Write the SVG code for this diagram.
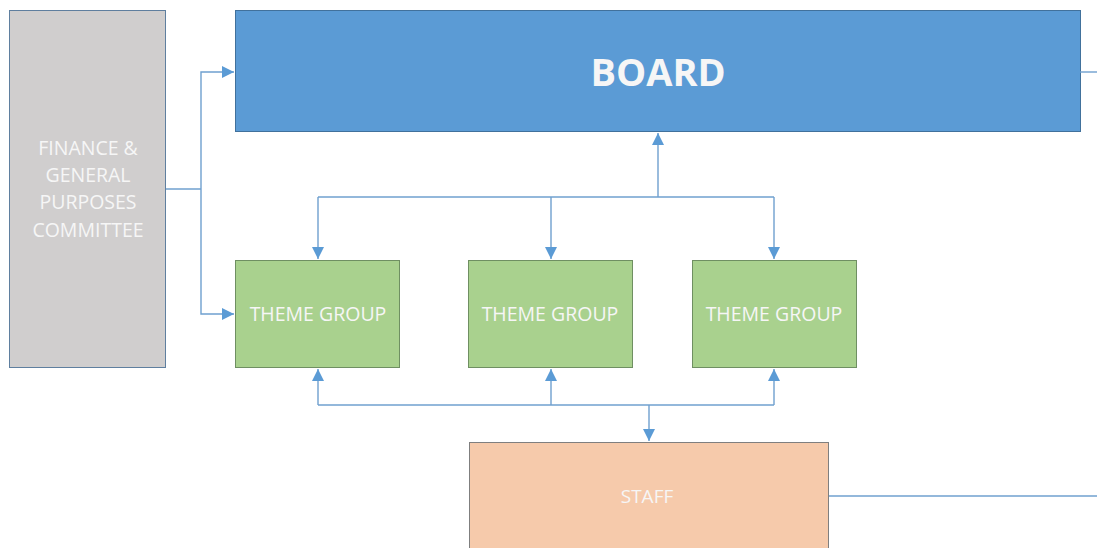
<svg xmlns="http://www.w3.org/2000/svg" width="1097" height="548" viewBox="0 0 1097 548">
<style>
.box{stroke-width:1}
.lbl{font-family:"Open Sans","Liberation Sans",sans-serif;fill:#f6f6f6;text-anchor:middle}
.conn{fill:none;stroke:#6fa0cf;stroke-width:1.4}
</style>
<defs>
<marker id="arr" viewBox="0 0 12 12" refX="12" refY="6" markerWidth="12" markerHeight="12" markerUnits="userSpaceOnUse" orient="auto">
<path d="M0,0 L12,6 L0,12 Z" fill="#5b9bd5"/>
</marker>
</defs>
<rect width="1097" height="548" fill="#ffffff"/>
<g id="finance">
<rect class="box" x="9.5" y="10.5" width="156" height="357" fill="#d0cece" stroke="#5f7f9f"/>
<text class="lbl" font-size="19.5" x="88" y="155">FINANCE &amp;</text>
<text class="lbl" font-size="19.5" x="88" y="182">GENERAL</text>
<text class="lbl" font-size="19.5" x="88" y="209">PURPOSES</text>
<text class="lbl" font-size="19.5" x="88" y="237">COMMITTEE</text>
</g>
<g id="board">
<rect class="box" x="235.5" y="10.5" width="845" height="121" fill="#5b9bd5" stroke="#41719c"/>
<text class="lbl" font-size="38" font-weight="bold" x="658" y="86" fill="#ffffff">BOARD</text>
</g>
<g id="theme1">
<rect class="box" x="235.5" y="260.5" width="164" height="107" fill="#a9d18e" stroke="#6f8f62"/>
<text class="lbl" font-size="19.5" x="318" y="321">THEME GROUP</text>
</g>
<g id="theme2">
<rect class="box" x="468.5" y="260.5" width="164" height="107" fill="#a9d18e" stroke="#6f8f62"/>
<text class="lbl" font-size="19.5" x="550" y="321">THEME GROUP</text>
</g>
<g id="theme3">
<rect class="box" x="692.5" y="260.5" width="164" height="107" fill="#a9d18e" stroke="#6f8f62"/>
<text class="lbl" font-size="19.5" x="774" y="321">THEME GROUP</text>
</g>
<g id="staff">
<rect class="box" x="469.5" y="442.5" width="359" height="110" fill="#f6caab" stroke="#7f7f7f"/>
<text class="lbl" font-size="19" x="647" y="503">STAFF</text>
</g>
<g id="connectors">
<path class="conn" d="M166,189 H201"/>
<path class="conn" d="M201,189 V72 H234" marker-end="url(#arr)"/>
<path class="conn" d="M201,189 V314 H234" marker-end="url(#arr)"/>
<path class="conn" d="M1080,72 H1097"/>
<path class="conn" d="M658,197 V133" marker-end="url(#arr)"/>
<path class="conn" d="M318,197 H774"/>
<path class="conn" d="M318,197 V259" marker-end="url(#arr)"/>
<path class="conn" d="M551,197 V259" marker-end="url(#arr)"/>
<path class="conn" d="M774,197 V259" marker-end="url(#arr)"/>
<path class="conn" d="M318,405 H774"/>
<path class="conn" d="M318,405 V369" marker-end="url(#arr)"/>
<path class="conn" d="M551,405 V369" marker-end="url(#arr)"/>
<path class="conn" d="M774,405 V369" marker-end="url(#arr)"/>
<path class="conn" d="M649,405 V441" marker-end="url(#arr)"/>
<path class="conn" d="M829,496 H1097"/>
</g>
</svg>
